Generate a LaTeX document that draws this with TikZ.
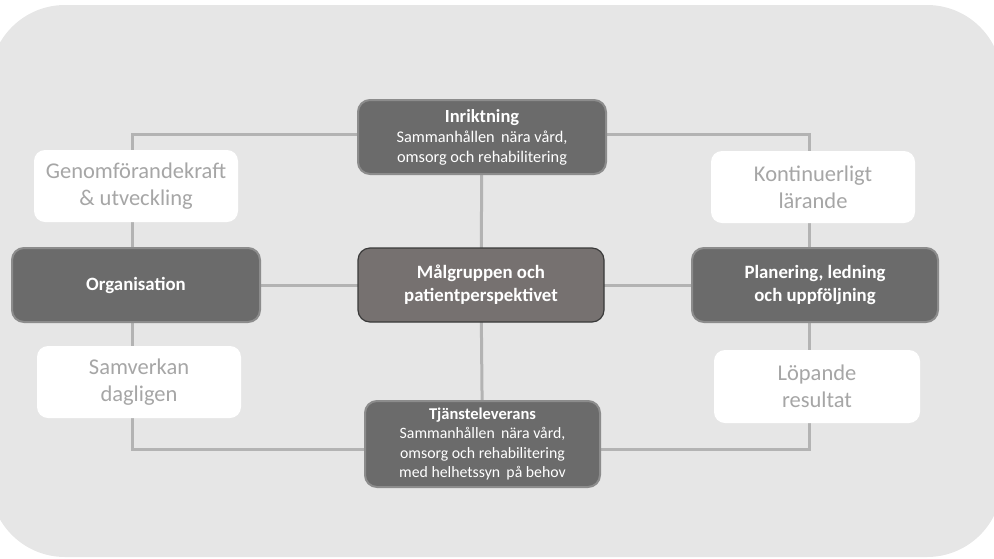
\documentclass[tikz,border=0pt]{standalone}
\usepackage{fontspec}
\setmainfont{Carlito}
\definecolor{panel}{HTML}{E6E6E6}
\definecolor{link}{HTML}{B3B3B3}
\definecolor{darkfill}{HTML}{6B6B6B}
\definecolor{darkrim}{HTML}{8C8C8C}
\definecolor{corefill}{HTML}{767170}
\definecolor{corerim}{HTML}{3A3A3A}
\definecolor{softtext}{HTML}{A6A6A6}
\pgfdeclarelayer{backdrop}
\pgfdeclarelayer{links}
\pgfsetlayers{backdrop,links,main}
\tikzset{
  pillar/.style={draw=darkrim, line width=2pt, fill=darkfill, rounded corners=12pt,
    text=white, align=center, inner sep=0pt,
    font=\fontsize{16.3}{20}\selectfont},
  core/.style={draw=corerim, line width=1.2pt, fill=corefill, rounded corners=12pt,
    text=white, align=center, inner sep=0pt,
    font=\fontsize{18.8}{23}\selectfont\bfseries},
  facet/.style={fill=white, rounded corners=11pt, text=softtext, align=center,
    inner sep=0pt, minimum width=204pt, minimum height=72pt,
    font=\fontsize{22.5}{27}\selectfont},
  linkline/.style={draw=link, line width=3pt},
}
\begin{document}
\begin{tikzpicture}[x=1pt,y=-1pt]
  \useasboundingbox (0,0) rectangle (994,558);
  \clip (0,0) rectangle (994,558);
  % backdrop panel
  \begin{pgfonlayer}{backdrop}
    \fill[panel, rounded corners=75pt] (-10,5) rectangle (1002,557);
  \end{pgfonlayer}

  % nodes
  \node[pillar, minimum width=248pt, minimum height=74pt] (inr) at (482,137)
    {{\fontsize{18.5}{20}\selectfont\bfseries Inriktning}\\Sammanhållen\, nära vård,\\omsorg och rehabilitering};
  \node[core, minimum width=246pt, minimum height=74pt] (mal) at (481,285)
    {Målgruppen och\\patientperspektivet};
  \node[pillar, minimum width=235pt, minimum height=86pt,
        font=\fontsize{15.8}{19.5}\selectfont] (tj) at (482.5,444)
    {{\fontsize{16.5}{19.5}\selectfont\bfseries Tjänsteleverans}\\Sammanhållen\, nära vård,\\omsorg och rehabilitering\\med helhetssyn\, på behov};
  \node[pillar, minimum width=248pt, minimum height=74pt,
        font=\fontsize{18.8}{23}\selectfont\bfseries] (org) at (136,285)
    {Organisation};
  \node[pillar, minimum width=246pt, minimum height=74pt,
        font=\fontsize{18.8}{23}\selectfont\bfseries] (plan) at (815,285)
    {Planering, ledning\\och uppföljning};

  \node[facet] (gen) at (136,186) {Genomförandekraft\\\& utveckling};
  \node[facet] (sam) at (139,382) {Samverkan\\dagligen};
  \node[facet] (kon) at (813,187) {Kontinuerligt\\lärande};
  \node[facet, minimum width=206pt, minimum height=73pt] (lop) at (817,386.5) {Löpande\\resultat};

  % outer loop and spokes, kept behind the boxes
  \coordinate (tl) at (132,134);
  \coordinate (tr) at (809,134);
  \coordinate (br) at (809,449);
  \coordinate (bl) at (132,449);
  \begin{pgfonlayer}{links}
    \draw[linkline] (tl) -- (tr) -- (br) -- (bl) -- cycle;
    \draw[linkline] (inr.center) -- (mal.center) -- (tj.center);
    \draw[linkline] (org.center) -- (mal.center) -- (plan.center);
  \end{pgfonlayer}
\end{tikzpicture}
\end{document}
